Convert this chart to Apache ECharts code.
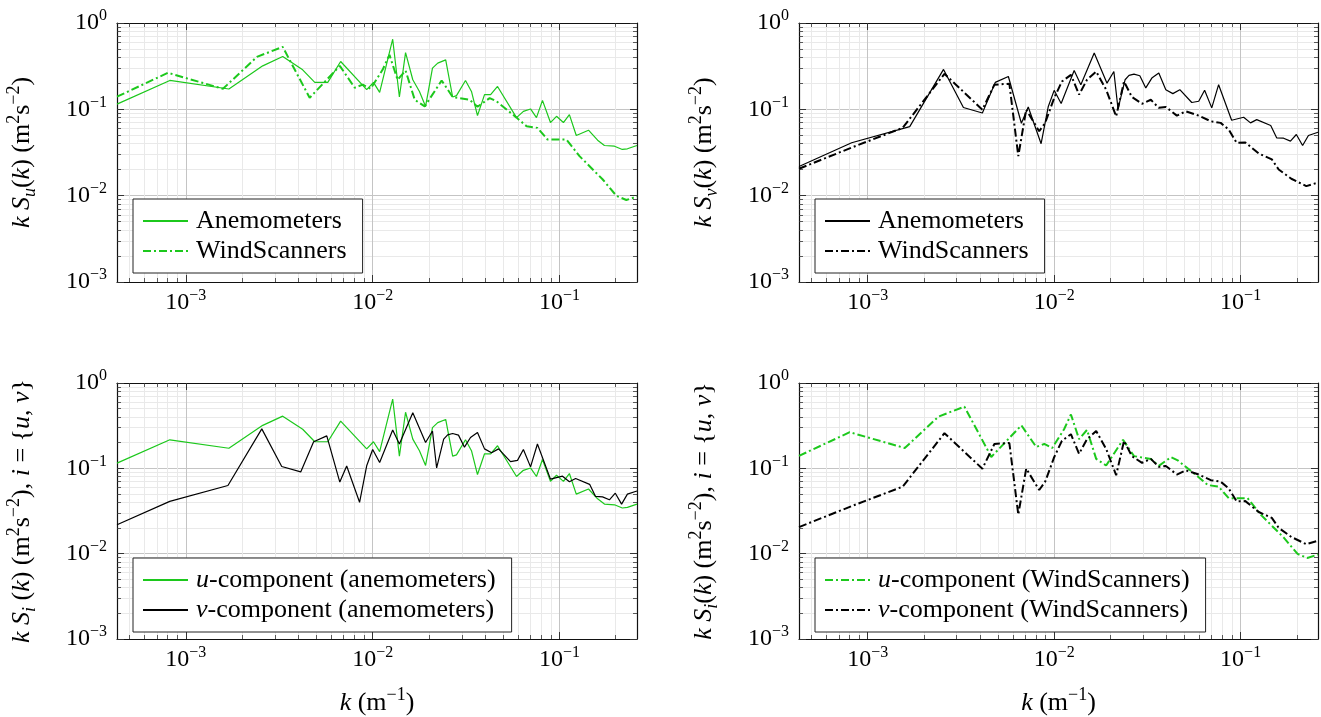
<!DOCTYPE html>
<html><head><meta charset="utf-8">
<script src="https://cdn.jsdelivr.net/npm/echarts@6/dist/echarts.min.js"></script>
<style>html,body{margin:0;padding:0;background:#fff}#c{width:1321px;height:717px}</style>
</head><body><div id="c"></div>
<script>
// ---------- axis limits and tick labels ----------
const K_MIN = 4.28e-4, K_MAX = 0.26;
const Y_MIN = 1e-3, Y_MAX = 1;
const xMajorTicks = [1e-3, 1e-2, 1e-1];
const yMajorTicks = [1e-3, 1e-2, 1e-1, 1];

// ---------- data: wavenumber k (1/m) and premultiplied spectra (m^2 s^-2) ----------
const kUAnem = [4.28e-4, 8.21e-4, 1.70e-3, 2.58e-3, 3.30e-3, 4.22e-3, 4.90e-3, 5.75e-3, 6.74e-3, 9.29e-3, 1.01e-2, 1.09e-2, 1.28e-2, 1.39e-2, 1.50e-2, 1.64e-2, 1.78e-2, 1.92e-2, 2.09e-2, 2.23e-2, 2.46e-2, 2.68e-2, 2.81e-2, 3.14e-2, 3.38e-2, 3.64e-2, 3.97e-2, 4.28e-2, 4.66e-2, 5.89e-2, 6.41e-2, 7.00e-2, 7.53e-2, 8.11e-2, 8.95e-2, 9.64e-2, 0.105, 0.113, 0.123, 0.143, 0.160, 0.174, 0.197, 0.217, 0.231, 0.26];
const uAnem = [0.115, 0.216, 0.172, 0.319, 0.409, 0.287, 0.205, 0.205, 0.358, 0.169, 0.205, 0.157, 0.649, 0.139, 0.454, 0.220, 0.161, 0.108, 0.300, 0.343, 0.374, 0.139, 0.144, 0.216, 0.161, 0.0846, 0.148, 0.148, 0.184, 0.0802, 0.0948, 0.101, 0.0802, 0.127, 0.0703, 0.083, 0.0703, 0.0869, 0.0498, 0.0573, 0.0439, 0.0381, 0.0374, 0.0343, 0.0349, 0.0381];

const kVAnem = [4.28e-4, 8.2e-4, 1.68e-3, 2.55e-3, 3.26e-3, 4.12e-3, 4.83e-3, 5.68e-3, 6.67e-3, 7.26e-3, 8.51e-3, 9.29e-3, 1.0e-2, 1.09e-2, 1.28e-2, 1.39e-2, 1.64e-2, 1.92e-2, 2.09e-2, 2.20e-2, 2.40e-2, 2.52e-2, 2.68e-2, 2.88e-2, 3.10e-2, 3.34e-2, 3.64e-2, 3.97e-2, 4.33e-2, 4.72e-2, 5.47e-2, 5.96e-2, 6.41e-2, 7.00e-2, 7.62e-2, 8.95e-2, 0.1038, 0.113, 0.122, 0.145, 0.156, 0.170, 0.185, 0.199, 0.215, 0.231, 0.26];
const vAnem = [0.0218, 0.041, 0.063, 0.290, 0.105, 0.0908, 0.205, 0.240, 0.069, 0.1066, 0.040, 0.107, 0.166, 0.117, 0.282, 0.193, 0.448, 0.201, 0.274, 0.101, 0.220, 0.247, 0.256, 0.245, 0.177, 0.230, 0.263, 0.169, 0.152, 0.169, 0.120, 0.124, 0.166, 0.104, 0.193, 0.0747, 0.0809, 0.0697, 0.0760, 0.0649, 0.0468, 0.0463, 0.0428, 0.0511, 0.0381, 0.0498, 0.0543];

const kUWS = [4.28e-4, 8.01e-4, 1.58e-3, 2.40e-3, 3.30e-3, 4.60e-3, 6.67e-3, 8.01e-3, 8.85e-3, 9.75e-3, 1.13e-2, 1.23e-2, 1.36e-2, 1.50e-2, 1.68e-2, 1.90e-2, 2.34e-2, 2.68e-2, 3.30e-2, 3.64e-2, 4.23e-2, 4.60e-2, 5.89e-2, 6.67e-2, 7.62e-2, 8.63e-2, 0.109, 0.128, 0.170, 0.202, 0.228, 0.26];
const uWS = [0.140, 0.265, 0.173, 0.405, 0.529, 0.136, 0.319, 0.178, 0.193, 0.173, 0.287, 0.428, 0.220, 0.282, 0.129, 0.108, 0.216, 0.139, 0.129, 0.107, 0.135, 0.124, 0.0802, 0.0637, 0.061, 0.0447, 0.0447, 0.0287, 0.0155, 0.00993, 0.00891, 0.00977];

const kVWS = [4.28e-4, 8.31e-4, 1.54e-3, 2.58e-3, 4.12e-3, 4.78e-3, 5.75e-3, 6.42e-3, 7.08e-3, 8.31e-3, 8.95e-3, 1.0e-2, 1.10e-2, 1.23e-2, 1.36e-2, 1.50e-2, 1.68e-2, 1.90e-2, 2.15e-2, 2.37e-2, 2.61e-2, 2.96e-2, 3.30e-2, 3.64e-2, 3.97e-2, 4.55e-2, 5.08e-2, 5.96e-2, 6.92e-2, 7.82e-2, 8.63e-2, 9.52e-2, 0.106, 0.125, 0.147, 0.160, 0.187, 0.225, 0.26];
const vWS = [0.0205, 0.0365, 0.061, 0.258, 0.099, 0.193, 0.198, 0.0287, 0.0993, 0.0557, 0.0697, 0.135, 0.210, 0.251, 0.148, 0.220, 0.274, 0.169, 0.083, 0.210, 0.139, 0.116, 0.129, 0.104, 0.1066, 0.0846, 0.0948, 0.0846, 0.0727, 0.0697, 0.0583, 0.0410, 0.0413, 0.0308, 0.0263, 0.0201, 0.0157, 0.0129, 0.0142];

// legend labels (rich text)
const LABELS = {
  uA1: 'Anemometers', uW1: 'WindScanners',
  vA2: 'Anemometers', vW2: 'WindScanners',
  uA3: '{i|u}-component (anemometers)', vA3: '{i|v}-component (anemometers)',
  uW4: '{i|u}-component (WindScanners)', vW4: '{i|v}-component (WindScanners)'
};

// ---------- styling ----------
const F = 'Liberation Serif, Times New Roman, serif';
const GREEN = '#1cc81c', BLACK = '#000';
const DASHDOT = [8, 3, 2, 3];

function minorTicks(lo, hi) {
  const out = [];
  for (let d = -5; d <= 1; d++) for (let m = 2; m <= 9; m++) {
    const v = m * Math.pow(10, d);
    if (v > lo && v < hi) out.push(v);
  }
  return out;
}
const xMinorTicks = minorTicks(K_MIN, K_MAX);
const yMinorTicks = minorTicks(Y_MIN, Y_MAX);

function sup(e) { return e < 0 ? '\u2212' + (-e) : '' + e; }
function tickFmt(v) {
  const l = Math.log10(v), e = Math.round(l);
  if (Math.abs(l - e) > 1e-6) return '';
  return '{b|10}{e|' + sup(e) + '}';
}
const tickRich = {
  b: {fontFamily: F, fontSize: 24, lineHeight: 30, color: '#000'},
  e: {fontFamily: F, fontSize: 16, lineHeight: 14, verticalAlign: 'top', color: '#000'}
};
const nameRich = {
  n: {fontFamily: F, fontSize: 26, lineHeight: 34, color: '#000'},
  i: {fontFamily: F, fontSize: 26, lineHeight: 34, fontStyle: 'italic', color: '#000'},
  sub: {fontFamily: F, fontSize: 18, lineHeight: 18, fontStyle: 'italic', verticalAlign: 'bottom', color: '#000'},
  sup: {fontFamily: F, fontSize: 18, lineHeight: 18, verticalAlign: 'top', color: '#000'}
};

const panels = [
  {left: 117, top: 23, width: 520, height: 259,
   yName: '{i|k} {i|S}{sub|u}{n|(}{i|k}{n|) (m}{sup|2}{n|s}{sup|\u22122}{n|)}', xName: null,
   series: [['uA1', kUAnem, uAnem, GREEN, 'solid'], ['uW1', kUWS, uWS, GREEN, 'dash']],
   legend: {left: 133, top: 199}},
  {left: 799, top: 23, width: 519, height: 259,
   yName: '{i|k} {i|S}{sub|v}{n|(}{i|k}{n|) (m}{sup|2}{n|s}{sup|\u22122}{n|)}', xName: null,
   series: [['vA2', kVAnem, vAnem, BLACK, 'solid'], ['vW2', kVWS, vWS, BLACK, 'dash']],
   legend: {left: 815, top: 199}},
  {left: 117, top: 383, width: 520, height: 259,
   yName: '{i|k} {i|S}{sub|i} {n|(}{i|k}{n|) (m}{sup|2}{n|s}{sup|\u22122}{n|),} {i|i} {n|=} {{i|u}, {i|v}}',
   xName: '{i|k} {n|(m}{sup|\u22121}{n|)}',
   series: [['uA3', kUAnem, uAnem, GREEN, 'solid'], ['vA3', kVAnem, vAnem, BLACK, 'solid']],
   legend: {left: 133, top: 558}},
  {left: 799, top: 383, width: 519, height: 259,
   yName: '{i|k} {i|S}{sub|i}{n|(}{i|k}{n|) (m}{sup|2}{n|s}{sup|\u22122}{n|),} {i|i} {n|=} {{i|u}, {i|v}}',
   xName: '{i|k} {n|(m}{sup|\u22121}{n|)}',
   series: [['uW4', kUWS, uWS, GREEN, 'dash'], ['vW4', kVWS, vWS, BLACK, 'dash']],
   legend: {left: 815, top: 558}}
];

const grid = [], xAxis = [], yAxis = [], series = [], legend = [];
const TICK = '#333', FRAME = '#111';

panels.forEach((p, g) => {
  grid.push({left: p.left, top: p.top, width: p.width, height: p.height, containLabel: false});
  const base = {gridIndex: g, type: 'log', logBase: 10};
  const xb = Object.assign({}, base, {min: K_MIN, max: K_MAX});
  const yb = Object.assign({}, base, {min: Y_MIN, max: Y_MAX});
  xAxis.push(Object.assign({}, xb, {position: 'bottom', axisLine: {show: false},
    axisTick: {show: true, inside: true, length: 4, customValues: xMinorTicks, lineStyle: {color: TICK, width: 0.8}},
    axisLabel: {show: false}, splitLine: {show: true, lineStyle: {color: '#e9e9e9', width: 1}}}));
  xAxis.push(Object.assign({}, xb, {position: 'top', axisLine: {show: false},
    axisTick: {show: true, inside: true, length: 4, customValues: xMinorTicks, lineStyle: {color: TICK, width: 0.8}},
    axisLabel: {show: false}, splitLine: {show: false}}));
  xAxis.push(Object.assign({}, xb, {position: 'top', axisLine: {show: true, onZero: false, lineStyle: {color: FRAME, width: 1.2}},
    axisTick: {show: true, inside: true, length: 7, customValues: xMajorTicks, lineStyle: {color: TICK, width: 1}},
    axisLabel: {show: false}, splitLine: {show: false}}));
  const xMajIdx = xAxis.length;
  xAxis.push(Object.assign({}, xb, {position: 'bottom', axisLine: {show: true, onZero: false, lineStyle: {color: FRAME, width: 1.2}},
    axisTick: {show: true, inside: true, length: 7, customValues: xMajorTicks, lineStyle: {color: TICK, width: 1}},
    axisLabel: {show: true, customValues: xMajorTicks, formatter: tickFmt, rich: tickRich, margin: 6, hideOverlap: false},
    splitLine: {show: true, lineStyle: {color: '#c4c4c4', width: 1}},
    name: p.xName || '', nameLocation: 'middle', nameGap: 47,
    nameTextStyle: {fontFamily: F, fontSize: 26, color: '#000', rich: nameRich}}));

  yAxis.push(Object.assign({}, yb, {position: 'left', axisLine: {show: false},
    axisTick: {show: true, inside: true, length: 4, customValues: yMinorTicks, lineStyle: {color: TICK, width: 0.8}},
    axisLabel: {show: false}, splitLine: {show: true, lineStyle: {color: '#e9e9e9', width: 1}}}));
  yAxis.push(Object.assign({}, yb, {position: 'right', axisLine: {show: false},
    axisTick: {show: true, inside: true, length: 4, customValues: yMinorTicks, lineStyle: {color: TICK, width: 0.8}},
    axisLabel: {show: false}, splitLine: {show: false}}));
  yAxis.push(Object.assign({}, yb, {position: 'right', axisLine: {show: true, onZero: false, lineStyle: {color: FRAME, width: 1.2}},
    axisTick: {show: true, inside: true, length: 7, customValues: yMajorTicks, lineStyle: {color: TICK, width: 1}},
    axisLabel: {show: false}, splitLine: {show: false}}));
  const yMajIdx = yAxis.length;
  yAxis.push(Object.assign({}, yb, {position: 'left', axisLine: {show: true, onZero: false, lineStyle: {color: FRAME, width: 1.2}},
    axisTick: {show: true, inside: true, length: 7, customValues: yMajorTicks, lineStyle: {color: TICK, width: 1}},
    axisLabel: {show: true, customValues: yMajorTicks, formatter: tickFmt, rich: tickRich, margin: 10, hideOverlap: false},
    splitLine: {show: true, lineStyle: {color: '#c4c4c4', width: 1}},
    name: p.yName, nameLocation: 'middle', nameRotate: 90, nameGap: 78,
    nameTextStyle: {fontFamily: F, fontSize: 26, color: '#000', rich: nameRich}}));

  p.series.forEach(([name, ks, vs, color, kind]) => {
    series.push({
      type: 'line', name: name, xAxisIndex: xMajIdx, yAxisIndex: yMajIdx,
      data: ks.map((k, i) => [k, vs[i]]),
      symbol: 'none', showSymbol: false, clip: true, animation: false, silent: true,
      lineStyle: {color: color, width: kind === 'dash' ? 2 : 1.2, type: kind === 'dash' ? DASHDOT : 'solid'},
      itemStyle: {color: color}
    });
  });

  legend.push({
    left: p.legend.left, top: p.legend.top, orient: 'vertical',
    data: p.series.map(s => s[0]), selectedMode: false,
    backgroundColor: '#fff', borderColor: '#222', borderWidth: 1, borderRadius: 0,
    padding: [9, 16, 9, 9], itemGap: 4, itemWidth: 45, itemHeight: 14,
    itemStyle: {opacity: 0, borderWidth: 0},
    formatter: n => LABELS[n],
    textStyle: {fontFamily: F, fontSize: 26, lineHeight: 26, color: '#000', padding: [0, 0, 0, 3],
      rich: {i: {fontFamily: F, fontSize: 26, lineHeight: 26, fontStyle: 'italic', color: '#000'}}}
  });
});

const chart = echarts.init(document.getElementById('c'), null, {renderer: 'canvas'});
chart.setOption({animation: false, backgroundColor: '#fff', grid, xAxis, yAxis, series, legend});
</script></body></html>
